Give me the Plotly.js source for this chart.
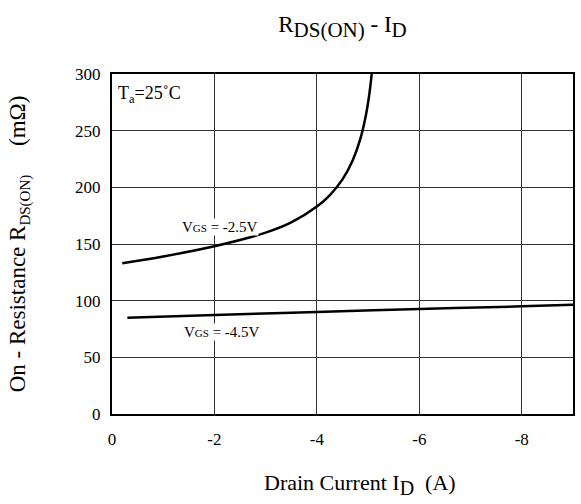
<!DOCTYPE html>
<html>
<head>
<meta charset="utf-8">
<script src="https://cdn.plot.ly/plotly-3.0.1.min.js"></script>
<style>html,body{margin:0;padding:0;background:#fff;}</style>
</head>
<body>
<div id="chart" style="width:581px;height:504px;"></div>
<script>
// Data
var idVgs25 = [-0.2, -1, -2, -3, -3.5, -4, -4.25, -4.5, -4.7, -4.85, -4.95, -5.02, -5.07];
var rVgs25  = [133, 139, 148, 160, 169, 183, 193, 207, 224, 243, 262, 281, 300];
var idVgs45 = [-0.3, -2, -4, -6, -8, -9];
var rVgs45  = [85, 87.3, 90, 92.6, 95, 96.5];
var xTickVals = [0, -2, -4, -6, -8];
var xTickText = ["0", "-2", "-4", "-6", "-8"];
var yTickVals = [0, 50, 100, 150, 200, 250, 300];
var yTickText = ["0", "50", "100", "150", "200", "250", "300"];

var font = "Liberation Serif";

var traces = [
  {x: idVgs25, y: rVgs25, mode: "lines", line: {color: "#000", width: 2.5, shape: "spline", smoothing: 1}, hoverinfo: "skip"},
  {x: idVgs45, y: rVgs45, mode: "lines", line: {color: "#000", width: 2.5, shape: "spline"}, hoverinfo: "skip"}
];

var subBig = function (s, px) { return "<sub><span style=\"font-size:" + px + "px\">" + s + "</span></sub>"; };

var layout = {
  width: 581, height: 504,
  margin: {l: 112, r: 8, t: 74, b: 90},
  paper_bgcolor: "#fff", plot_bgcolor: "#fff",
  showlegend: false,
  font: {family: font, color: "#000", size: 17},
  title: {text: "R" + subBig("DS(ON)", 21) + " - I" + subBig("D", 21), font: {family: font, size: 23, color: "#000"},
          x: 0.5, xref: "paper", y: 1 - 24 / 504, yref: "container", xanchor: "center", yanchor: "middle"},
  xaxis: {
    range: [0, -9], tickvals: xTickVals, ticktext: xTickText,
    showgrid: true, gridcolor: "#333", gridwidth: 1,
    showline: true, linecolor: "#000", linewidth: 2, mirror: true,
    ticks: "", ticklabelstandoff: 9, zeroline: false,
    tickfont: {family: font, size: 17, color: "#000"}
  },
  yaxis: {
    range: [0, 300], tickvals: yTickVals, ticktext: yTickText,
    showgrid: true, gridcolor: "#333", gridwidth: 1,
    showline: true, linecolor: "#000", linewidth: 2, mirror: true,
    ticks: "", ticklabelstandoff: 6, zeroline: false,
    tickfont: {family: font, size: 17, color: "#000"},
    title: {text: "On - Resistance R" + subBig("DS(ON)", 15) + "\u00a0\u00a0\u00a0\u00a0 (m\u03A9)", font: {family: font, size: 23, color: "#000"}, standoff: 43}
  },
  annotations: [
    {x: 0.538, y: -70 / 340, xref: "paper", yref: "paper", xanchor: "center", yanchor: "middle",
     text: "Drain Current I" + subBig("D", 20) + "\u00a0 (A)", showarrow: false,
     font: {family: font, size: 22, color: "#000"}},
    {x: 0, y: 300, xref: "x", yref: "y", xanchor: "left", yanchor: "top", xshift: 4, yshift: -7,
     text: "T<sub>a</sub>=25\u02DAC", showarrow: false, font: {family: font, size: 18, color: "#000"}},
    {x: -2.1, y: 165, xref: "x", yref: "y", xanchor: "center", yanchor: "middle",
     text: "V<span style=\"font-size:11px\">GS</span> = -2.5V", showarrow: false, bgcolor: "#fff", borderpad: 0,
     font: {family: font, size: 15, color: "#000"}},
    {x: -2.15, y: 72, xref: "x", yref: "y", xanchor: "center", yanchor: "middle",
     text: "V<span style=\"font-size:11px\">GS</span> = -4.5V", showarrow: false, bgcolor: "#fff", borderpad: 0,
     font: {family: font, size: 15, color: "#000"}}
  ]
};

Plotly.newPlot("chart", traces, layout, {staticPlot: true, displayModeBar: false});
</script>
</body>
</html>
